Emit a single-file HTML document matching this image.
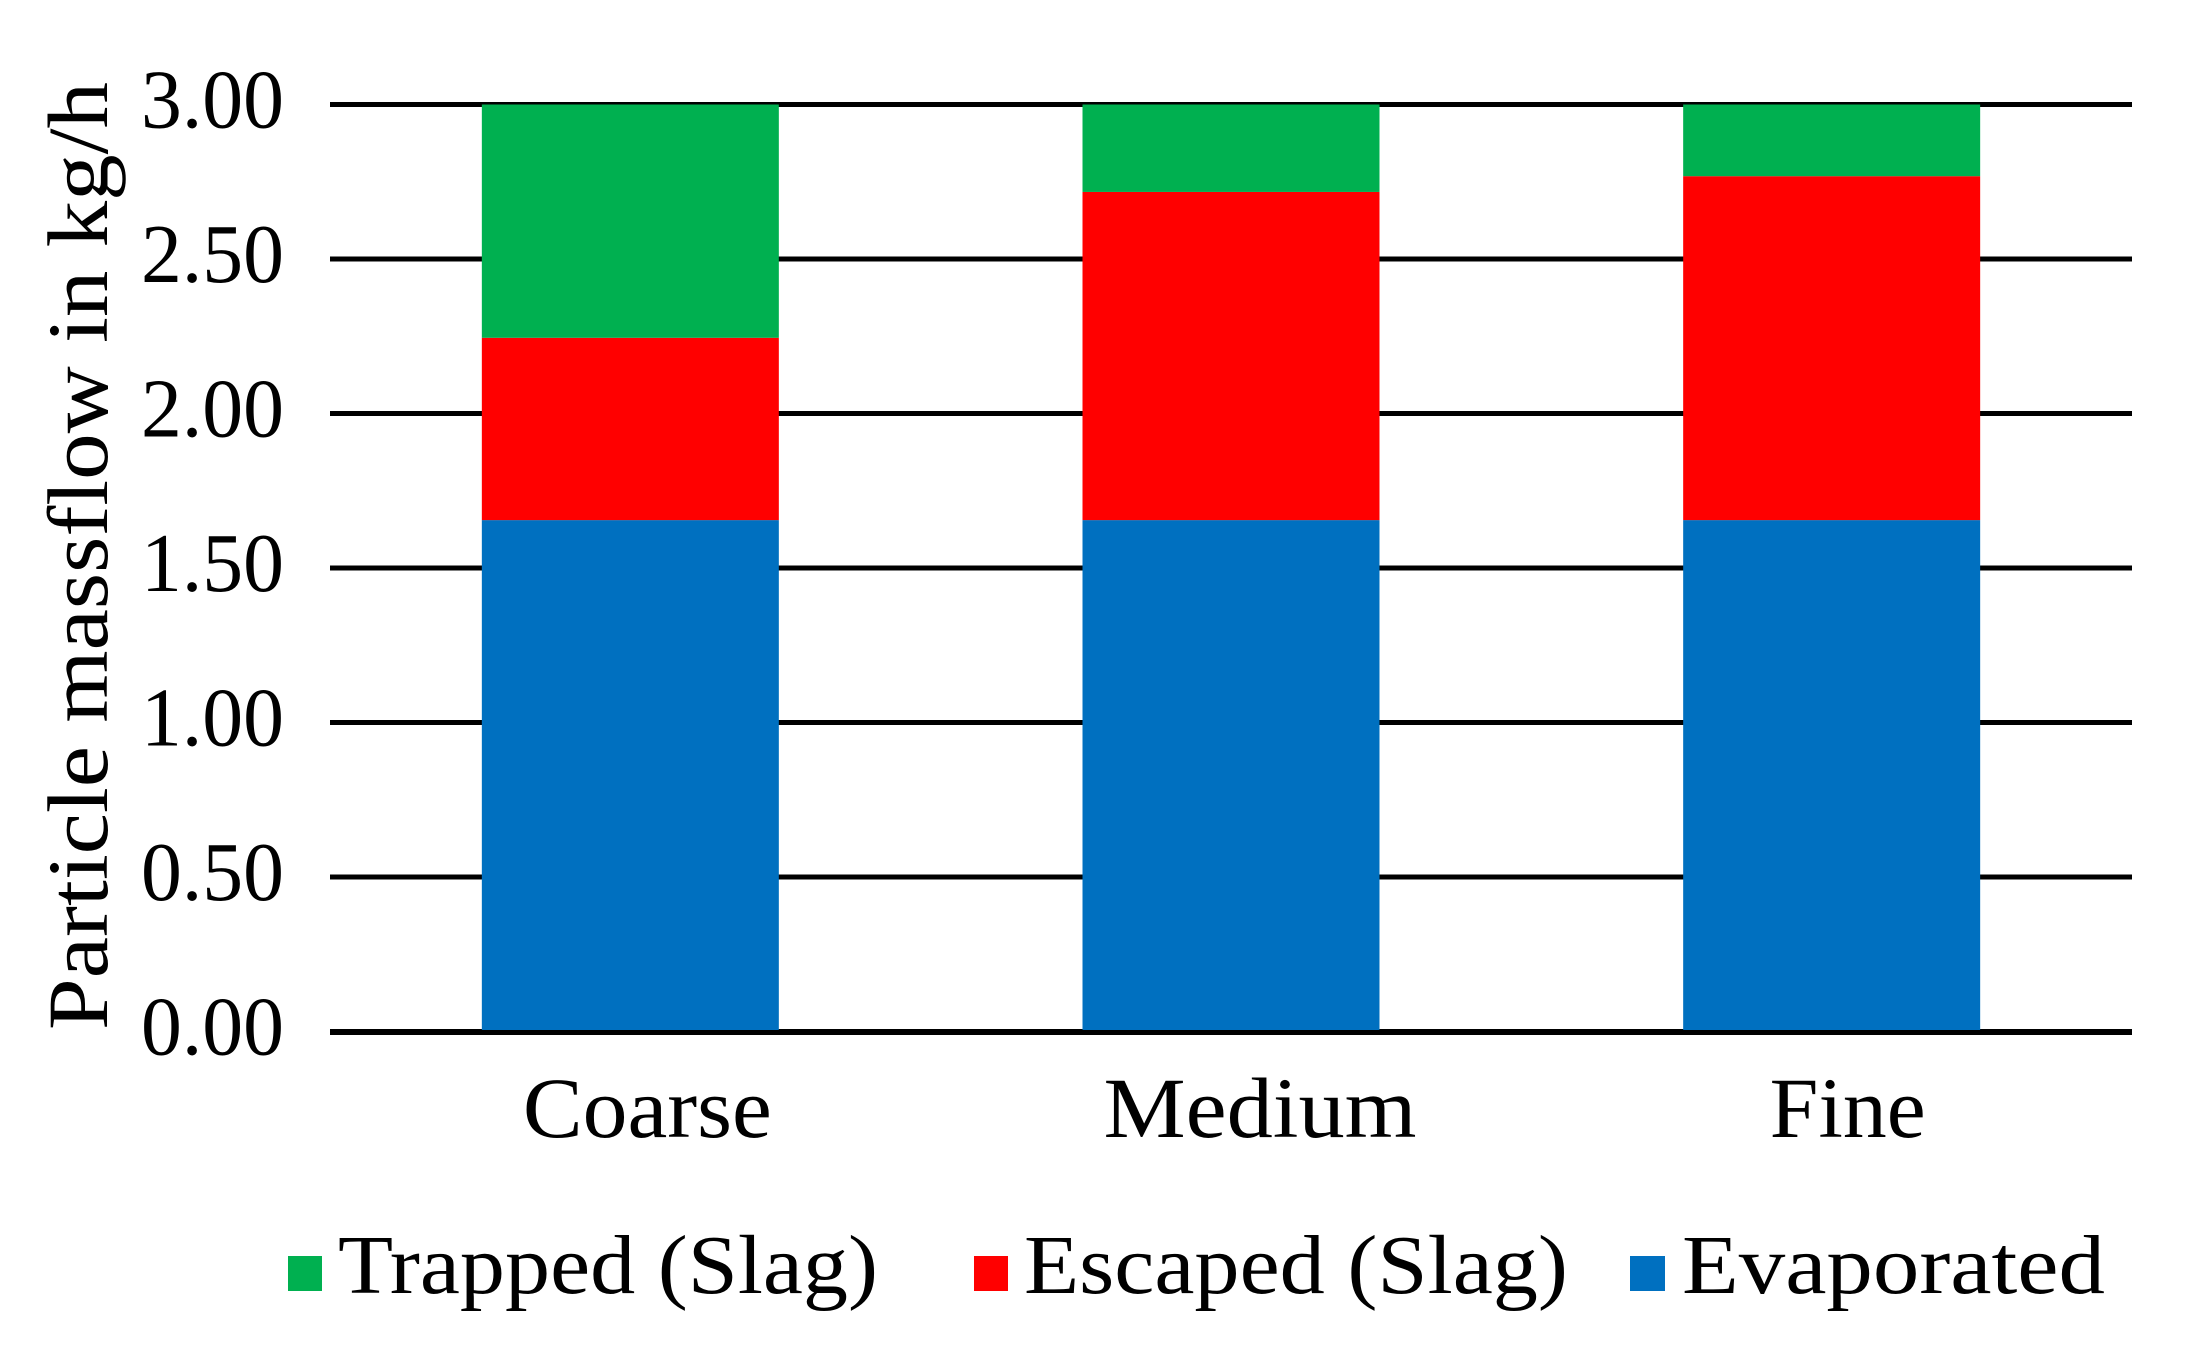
<!DOCTYPE html>
<html><head><meta charset="utf-8"><style>
html,body{margin:0;padding:0;background:#fff;}
svg{display:block;font-family:"Liberation Serif",serif;}
</style></head><body>
<svg id="chart" width="2195" height="1358" viewBox="0 0 2195 1358" xmlns="http://www.w3.org/2000/svg">
<g id="grid"></g>
<g id="bars"></g>
<g id="yticks"></g>
<g id="xticks"></g>
<text transform="translate(107,556) rotate(-90)" text-anchor="middle" font-size="86" textLength="948" lengthAdjust="spacingAndGlyphs">Particle massflow in kg/h</text>
<g>
<rect x="288" y="1256" width="34" height="35" fill="#00B050"/>
<text x="338" y="1293" font-size="84" textLength="540" lengthAdjust="spacingAndGlyphs">Trapped (Slag)</text>
<rect x="974" y="1256" width="34" height="35" fill="#FF0000"/>
<text x="1024" y="1293" font-size="84" textLength="544" lengthAdjust="spacingAndGlyphs">Escaped (Slag)</text>
<rect x="1630" y="1256" width="35" height="35" fill="#0070C0"/>
<text x="1682" y="1293" font-size="84" textLength="423" lengthAdjust="spacingAndGlyphs">Evaporated</text>
</g>
</svg>
<script>
const categories = ["Coarse", "Medium", "Fine"];
const evaporated = [1.655, 1.655, 1.655];
const escaped = [0.59, 1.062, 1.113];
const trapped = [0.755, 0.283, 0.232];
const yTicks = [0, 0.5, 1, 1.5, 2, 2.5, 3];
const yTickLabels = ["0.00", "0.50", "1.00", "1.50", "2.00", "2.50", "3.00"];

const NS = "http://www.w3.org/2000/svg";
const X0 = 330, X1 = 2132, Y0 = 1031.5, Y1 = 104.5, YMAX = 3;
function yScale(v){ return Y0 - (v / YMAX) * (Y0 - Y1); }
function xBand(i){ return X0 + (X1 - X0) / categories.length * (i + 0.5); }
const BW = 297;
const labelWidths = {Coarse: 249, Medium: 313, Fine: 156};
const labelOffsets = {Coarse: 17, Medium: 29, Fine: 16};

const grid = document.getElementById('grid');
const yt = document.getElementById('yticks');
yTicks.forEach((t, i) => {
  const l = document.createElementNS(NS, 'line');
  
  
  l.setAttribute('x1', X0); l.setAttribute('x2', X1);
  l.setAttribute('y1', yScale(t)); l.setAttribute('y2', yScale(t));
  l.setAttribute('stroke', '#000'); l.setAttribute('stroke-width', '5');
  grid.appendChild(l);
  const tx = document.createElementNS(NS, 'text');
  
  
  tx.setAttribute('x', 284); tx.setAttribute('y', yScale(t) + 23);
  tx.setAttribute('text-anchor', 'end'); tx.setAttribute('font-size', '84');
  tx.setAttribute('textLength', '143'); tx.setAttribute('lengthAdjust', 'spacingAndGlyphs');
  tx.textContent = yTickLabels[i];
  yt.appendChild(tx);
});

const bars = document.getElementById('bars');
const series = [[evaporated, '#0070C0', 'evaporated'], [escaped, '#FF0000', 'escaped'], [trapped, '#00B050', 'trapped']];
categories.forEach((c, i) => {
  let base = 0;
  series.forEach(([vals, col, nm]) => {
    const r = document.createElementNS(NS, 'rect');
    
    
    const top = yScale(base + vals[i]), bot = yScale(base);
    r.setAttribute('x', xBand(i) - BW / 2); r.setAttribute('width', BW);
    r.setAttribute('y', top); r.setAttribute('height', bot - top);
    r.setAttribute('fill', col);
    bars.appendChild(r);
    base += vals[i];
  });
  const tx = document.createElementNS(NS, 'text');
  
  
  tx.setAttribute('x', xBand(i) + (labelOffsets[c] || 18)); tx.setAttribute('y', 1137);
  tx.setAttribute('text-anchor', 'middle'); tx.setAttribute('font-size', '86');
  if (labelWidths[c]) { tx.setAttribute('textLength', labelWidths[c]); tx.setAttribute('lengthAdjust', 'spacingAndGlyphs'); }
  tx.textContent = c;
  document.getElementById('xticks').appendChild(tx);
});
const ax = document.createElementNS(NS, 'line');


ax.setAttribute('x1', X0); ax.setAttribute('x2', X1);
ax.setAttribute('y1', Y0 + 1); ax.setAttribute('y2', Y0 + 1);
ax.setAttribute('stroke', '#000'); ax.setAttribute('stroke-width', '5');
bars.appendChild(ax);
</script>
</body></html>
